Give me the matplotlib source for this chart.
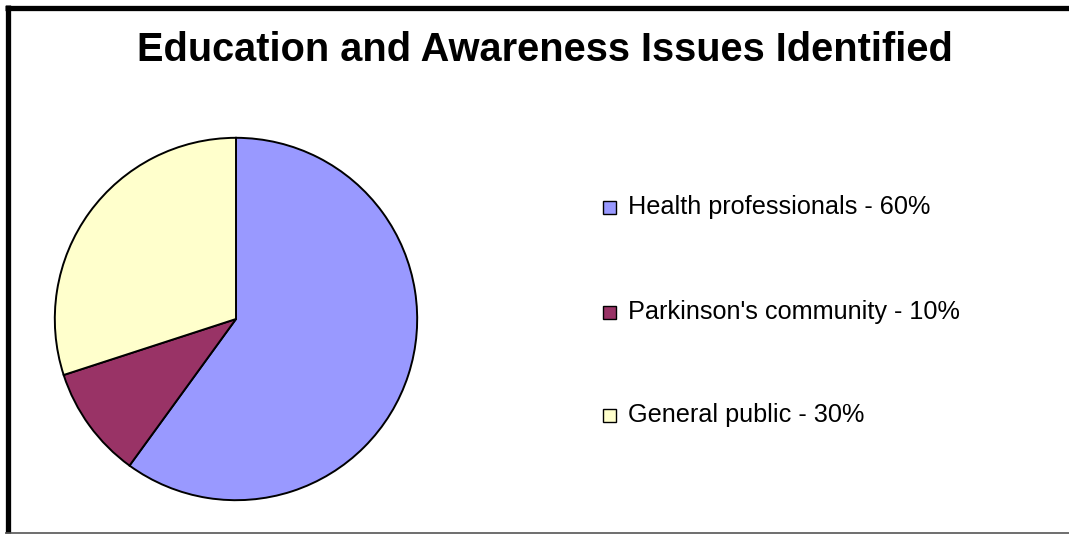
import matplotlib
matplotlib.use("Agg")
import matplotlib.pyplot as plt
from matplotlib.patches import Rectangle
from matplotlib.lines import Line2D

W, H = 1069, 535

title = "Education and Awareness Issues Identified"
categories = ["Health professionals", "Parkinson's community", "General public"]
shares = [60, 10, 30]
colors = ["#9999FF", "#993366", "#FFFFCC"]

plt.rcParams["font.family"] = ["Liberation Sans", "DejaVu Sans"]

fig = plt.figure(figsize=(W / 100, H / 100), dpi=100)
fig.patch.set_facecolor("white")


def fx(x):
    return x / W


def fy(y):
    return 1 - y / H


# outer frame (top and left thick, bottom thin)
fig.add_artist(Line2D([fx(5), fx(W)], [fy(7.5), fy(7.5)], color="black", lw=3.8,
                      transform=fig.transFigure, solid_capstyle="butt"))
fig.add_artist(Line2D([fx(7.5), fx(7.5)], [fy(5), fy(533)], color="black", lw=3.8,
                      transform=fig.transFigure, solid_capstyle="butt"))
fig.add_artist(Line2D([fx(5), fx(W)], [fy(532.5), fy(532.5)], color="#555555", lw=1.2,
                      transform=fig.transFigure, solid_capstyle="butt"))

fig.text(fx(545), fy(50), title, ha="center", va="center",
         fontsize=28.6, fontweight="bold", color="black")

# pie
cx, cy, r = 236, 319, 183
ax = fig.add_axes([fx(cx - r), fy(cy + r), fx(2 * r), 2 * r / H])
ax.pie(shares, colors=colors, startangle=90, counterclock=False,
       wedgeprops=dict(edgecolor="black", linewidth=1.4), radius=1)
ax.set_xlim(-1.01, 1.01)
ax.set_ylim(-1.01, 1.01)
ax.set_aspect("equal")
ax.axis("off")

# legend
legend_y = [207, 312, 415]
for name, val, col, ly in zip(categories, shares, colors, legend_y):
    s = 13
    fig.add_artist(Rectangle((fx(603), fy(ly + s / 2)), fx(s), s / H,
                             facecolor=col, edgecolor="black", lw=1.0,
                             transform=fig.transFigure))
    fig.text(fx(628), fy(ly), f"{name} - {val}%", ha="left", va="center",
             fontsize=18.2, color="black")

fig.savefig("out.png", dpi=100, facecolor="white")
